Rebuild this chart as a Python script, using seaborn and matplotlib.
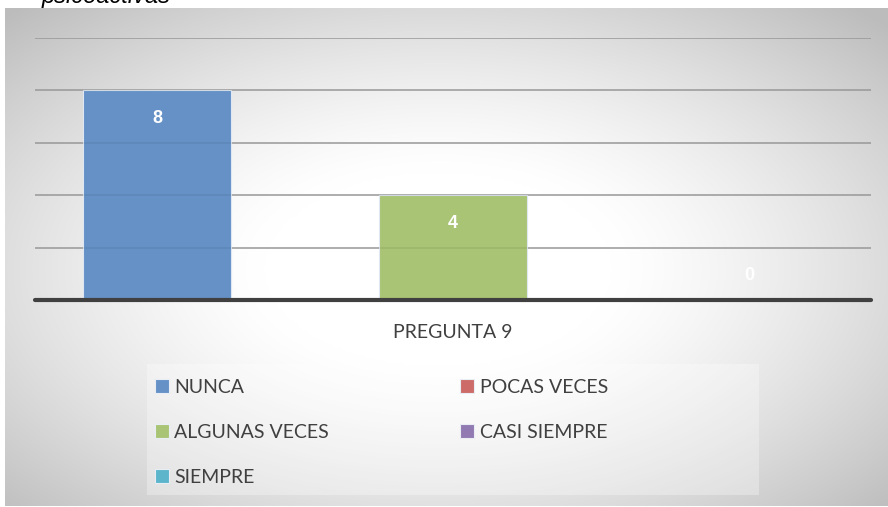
import numpy as np
import pandas as pd
import matplotlib
matplotlib.use("Agg")
import matplotlib.pyplot as plt
import seaborn as sns
from matplotlib.patches import Patch, Rectangle
from matplotlib import font_manager

# ---- data ----
category = ["PREGUNTA 9"]
series = ["NUNCA", "POCAS VECES", "ALGUNAS VECES", "CASI SIEMPRE", "SIEMPRE"]
values = [8, np.nan, 4, np.nan, 0]
colors = ["#6591C7", "#CD6B69", "#A9C474", "#9179B1", "#5DB5CC"]
yticks = [0, 2, 4, 6, 8, 10]
title_fragment = "psicoactivas"

sns.set_theme(style="white")
installed = {f.name for f in font_manager.fontManager.ttflist}
main_font = "Liberation Sans Narrow" if "Liberation Sans Narrow" in installed else "Lato"
FONT = [main_font, "DejaVu Sans"]
plt.rcParams["font.family"] = FONT
BOLD_FONT = ["Liberation Sans", "DejaVu Sans"]

W, H = 888, 507
fig = plt.figure(figsize=(W / 100, H / 100), dpi=100)
fig.patch.set_facecolor("white")

def fx(px):
    return px / W

def fy(py):
    return 1 - py / H

# background radial gradient frame
bg = fig.add_axes([fx(5), fy(506), fx(883), (506 - 8) / H], zorder=0)
ny, nx = 200, 350
yy, xx = np.mgrid[-1:1:ny * 1j, -1:1:nx * 1j]
r = np.sqrt(((xx + 0.02) ** 2 + (yy - 0.05) ** 2) / 2)
t = np.clip((r - 0.28) / 0.72, 0, 1)
g = 1 - 0.26 * t ** 1.3
img = np.dstack([g, g, g])
bg.imshow(img, aspect="auto", extent=[0, 1, 0, 1], interpolation="bilinear")
bg.set_axis_off()

# cropped title fragment (cut off at the top, as in the source)
fig.text(fx(42), fy(3), title_fragment, fontsize=17, style="italic",
         family=["Liberation Sans", "DejaVu Sans"], color="black", va="baseline", ha="left")

# main axes
ax = fig.add_axes([fx(35), fy(300), fx(836), (300 - 38) / H], zorder=2)
ax.patch.set_alpha(0)

df = pd.DataFrame({"cat": category * len(series), "serie": series, "valor": values})
plot_df = df.dropna()
sns.barplot(data=plot_df, x="cat", y="valor", hue="serie", hue_order=series,
            palette=dict(zip(series, colors)), width=0.885, dodge=True, ax=ax,
            legend=False, saturation=1, edgecolor="#dfe8f2", linewidth=0.8, zorder=2)

ax.set_ylim(0, 10)
ax.set_xlim(-0.5, 0.5)
ax.set_yticks(yticks)
ax.set_yticklabels([])
ax.tick_params(left=False, bottom=False)
ax.set_xticks([])
ax.set_xlabel("")
ax.set_ylabel("")
for s in ax.spines.values():
    s.set_visible(False)
for yv in yticks[1:]:
    ax.axhline(yv, color="#A6A6A6", lw=1.1, zorder=1)
    ax.axhline(yv, color="black", lw=1.1, alpha=0.08, zorder=2.5)
ax.axhline(0, color="#404040", lw=3.0, zorder=3, clip_on=False)

# data labels
for bar_container in ax.containers:
    for rect in bar_container:
        h = rect.get_height()
        if np.isnan(h):
            continue
        cx = rect.get_x() + rect.get_width() / 2
        off = -28 if h > 0 else 24
        ax.annotate(f"{int(h)}", (cx, h), xytext=(0, off), textcoords="offset pixels",
                    ha="center", va="center", color="white", fontsize=13,
                    fontweight="bold", family=BOLD_FONT, zorder=5)

fig.text(fx(453), fy(333), category[0], ha="center", va="center",
         fontsize=14, color="#404040")

# legend background
fig.patches.append(Rectangle((fx(147), fy(495)), fx(612), (495 - 364) / H,
                             transform=fig.transFigure, facecolor="white",
                             alpha=0.3, edgecolor="none", zorder=1))

order = [0, 2, 4, 1, 3]
handles = [Patch(facecolor=colors[i], edgecolor="#e8eef4", linewidth=0.8, label=series[i]) for i in order]
leg = fig.legend(handles=handles, ncol=2, loc="upper left",
                 bbox_to_anchor=(fx(155), fy(379)), frameon=False,
                 fontsize=14, handlelength=0.7, handleheight=0.7, handletextpad=0.3,
                 columnspacing=6.75, labelspacing=1.43, borderaxespad=0, borderpad=0)
for txt in leg.get_texts():
    txt.set_color("#404040")

fig.savefig("out.png", dpi=100)
